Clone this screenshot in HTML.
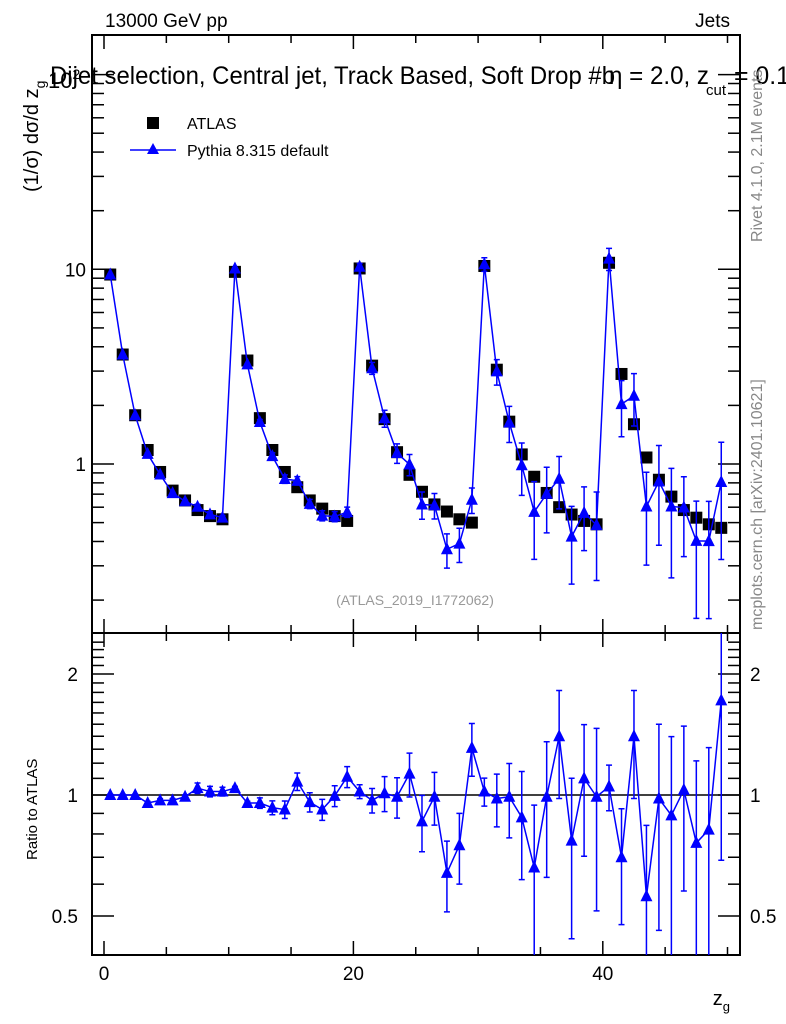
<!DOCTYPE html>
<html><head><meta charset="utf-8"><style>
body{margin:0;background:#fff;}
svg{display:block;font-family:"Liberation Sans",sans-serif;}
</style></head><body>
<svg id="c" width="786" height="1024">
<defs>
<clipPath id="cm"><rect x="92" y="35" width="648" height="598"/></clipPath>
<clipPath id="cr"><rect x="92" y="633" width="648" height="322"/></clipPath>
</defs>
<g id="frames">
<rect x="92" y="35" width="648" height="598" fill="none" stroke="#000" stroke-width="2"/>
<rect x="92" y="633" width="648" height="322" fill="none" stroke="#000" stroke-width="2"/>
</g>
<g id="ticks"></g>
<g id="mainmarks" clip-path="url(#cm)"></g>
<g id="ratiomarks" clip-path="url(#cr)"></g>
<text x="105" y="27" font-size="19">13000 GeV pp</text>
<text x="730" y="27" font-size="19" text-anchor="end">Jets</text>
<g>
<text x="50" y="84" font-size="25" textLength="565" lengthAdjust="spacingAndGlyphs">Dijet selection, Central jet, Track Based, Soft Drop #b</text>
<text x="609" y="84" font-size="25" textLength="100" lengthAdjust="spacingAndGlyphs">η = 2.0, z</text>
<text x="706" y="95" font-size="15">cut</text>
<text x="734" y="84" font-size="25" textLength="56" lengthAdjust="spacingAndGlyphs">= 0.1</text>
</g>
<text x="48" y="88" font-size="22">10<tspan font-size="14" dy="-9">2</tspan></text>
<text transform="translate(38,192) rotate(-90)" font-size="20">(1/σ) dσ/d z<tspan font-size="14" dy="7">g</tspan></text>
<text transform="translate(37,860) rotate(-90)" font-size="15">Ratio to ATLAS</text>
<text transform="translate(762,242) rotate(-90)" font-size="16" fill="#888">Rivet 4.1.0,  2.1M events</text>
<text transform="translate(762,630) rotate(-90)" font-size="16" fill="#888">mcplots.cern.ch [arXiv:2401.10621]</text>
<text x="415" y="605" font-size="14" fill="#999" text-anchor="middle">(ATLAS_2019_I1772062)</text>
<text x="730" y="1005" font-size="20" text-anchor="end">z<tspan font-size="13" dy="6">g</tspan></text>
<g>
<rect x="147" y="117" width="12" height="12" fill="#000"/>
<text x="187" y="129" font-size="16">ATLAS</text>
<line x1="130" y1="150" x2="176" y2="150" stroke="#00f" stroke-width="1.5"/>
<polygon points="153,143 147,154 159,154" fill="#00f"/>
<text x="187" y="156" font-size="16">Pythia 8.315 default</text>
</g>
</svg>
<script>
const atlas=[9.4,3.65,1.78,1.18,0.91,0.73,0.65,0.58,0.54,0.52,
9.7,3.4,1.72,1.18,0.91,0.76,0.65,0.59,0.54,0.51,
10.1,3.2,1.7,1.15,0.88,0.72,0.62,0.57,0.52,0.50,
10.4,3.05,1.65,1.12,0.86,0.71,0.60,0.55,0.51,0.49,
10.8,2.9,1.6,1.08,0.83,0.68,0.58,0.53,0.49,0.47];
const ratio=[1.0,1.0,1.0,0.955,0.97,0.97,0.99,1.04,1.02,1.02,
1.04,0.955,0.955,0.93,0.92,1.08,0.96,0.92,0.995,1.11,
1.02,0.97,1.01,0.99,1.13,0.86,0.99,0.64,0.75,1.31,
1.02,0.98,0.99,0.88,0.66,0.99,1.40,0.77,1.10,0.99,
1.05,0.70,1.40,0.56,0.98,0.89,1.03,0.76,0.82,1.72];
const relErr=[0.005,0.005,0.005,0.01,0.01,0.01,0.01,0.03,0.03,0.025,
0.01,0.01,0.03,0.04,0.05,0.05,0.055,0.06,0.06,0.06,
0.04,0.07,0.1,0.115,0.125,0.16,0.15,0.2,0.2,0.15,
0.08,0.15,0.21,0.3,0.43,0.37,0.3,0.43,0.36,0.48,
0.13,0.32,0.3,0.5,0.53,0.57,0.44,0.6,0.6,0.6];
const xTicks=[0,20,40];
const mainTicks=[{v:1,l:"1"},{v:10,l:"10"}];
const ratioTicks=[{v:0.5,l:"0.5"},{v:1,l:"1"},{v:2,l:"2"}];
const NS="http://www.w3.org/2000/svg";
const X=v=>104+12.47*v;
const YM=v=>464-194.7*Math.log10(v);
const YR=v=>795-121*Math.log2(v);
function mk(tag,attrs,parent){const e=document.createElementNS(NS,tag);for(const k in attrs)e.setAttribute(k,attrs[k]);parent.appendChild(e);return e;}
const tk=document.getElementById('ticks');
for(let v=0;v<=50;v+=5){const major=v%20===0;const L=major?14:8;
 for(const [yb,dir] of [[633,-1],[955,-1],[35,1],[633,1]]){
  const t=mk('line',{x1:X(v),x2:X(v),y1:yb,y2:yb+dir*L,stroke:'#000','stroke-width':1.5},tk);
  
  
 }}
for(const v of xTicks){const t=mk('text',{x:X(v),y:980,'font-size':19,'text-anchor':'middle'},tk);t.textContent=v;
 
 }
for(let d=-1;d<=2;d++){for(let m=1;m<10;m++){const v=m*Math.pow(10,d);const y=YM(v);if(y<35||y>633)continue;const L=m===1?22:12;
 for(const [xb,dir] of [[92,1],[740,-1]]){const t=mk('line',{x1:xb,x2:xb+dir*L,y1:y,y2:y,stroke:'#000','stroke-width':1.5},tk);
  
  }}}
for(const tt of mainTicks){const t=mk('text',{x:86,y:YM(tt.v)+7,'font-size':19,'text-anchor':'end'},tk);t.textContent=tt.l;
 
 }
for(let v=0.4;v<=2.5;v+=0.1){const r=Math.round(v*10)/10;const y=YR(r);if(y<633||y>955)continue;const major=(r===0.5||r===1||r===2);const L=major?22:12;
 for(const [xb,dir] of [[92,1],[740,-1]]){const t=mk('line',{x1:xb,x2:xb+dir*L,y1:y,y2:y,stroke:'#000','stroke-width':1.5},tk);
  
  }}
for(const tt of ratioTicks){
 const t=mk('text',{x:78,y:YR(tt.v)+7,'font-size':19,'text-anchor':'end'},tk);t.textContent=tt.l;
 
 
 const t2=mk('text',{x:750,y:YR(tt.v)+7,'font-size':19},tk);t2.textContent=tt.l;
 
 }
const gm=document.getElementById('mainmarks');
const gr=document.getElementById('ratiomarks');
const ref=mk('line',{x1:92,x2:740,y1:YR(1),y2:YR(1),stroke:'#000','stroke-width':1.5},gr);


let pm=[],pr=[];
atlas.forEach((a,i)=>{const x=X(i+0.5);
 const s=mk('rect',{x:x-6,y:YM(a)-6,width:12,height:12,fill:'#000'},gm);
 
 
 const mc=a*ratio[i];const e=mc*relErr[i];
 pm.push(x+','+YM(mc));pr.push(x+','+YR(ratio[i]));
 const lo=Math.max(mc-e,1e-3),hi=mc+e;
 const eb=mk('path',{d:`M${x},${YM(lo)}V${YM(hi)}M${x-3},${YM(lo)}h6M${x-3},${YM(hi)}h6`,stroke:'#00f','stroke-width':1.5,fill:'none'},gm);
 
 
 const r=ratio[i],re=r*relErr[i];const rlo=Math.max(r-re,1e-3),rhi=r+re;
 const eb2=mk('path',{d:`M${x},${YR(rlo)}V${YR(rhi)}M${x-3},${YR(rlo)}h6M${x-3},${YR(rhi)}h6`,stroke:'#00f','stroke-width':1.5,fill:'none'},gr);
 
 
});
const lm=mk('polyline',{points:pm.join(' '),fill:'none',stroke:'#00f','stroke-width':1.5},gm);


const lr=mk('polyline',{points:pr.join(' '),fill:'none',stroke:'#00f','stroke-width':1.5},gr);


atlas.forEach((a,i)=>{const x=X(i+0.5);const y=YM(a*ratio[i]);const yr=YR(ratio[i]);
 const t=mk('polygon',{points:`${x},${y-7} ${x-6},${y+5} ${x+6},${y+5}`,fill:'#00f'},gm);
 
 
 const t2=mk('polygon',{points:`${x},${yr-7} ${x-6},${yr+5} ${x+6},${yr+5}`,fill:'#00f'},gr);
 
 
});
</script>
</body></html>
